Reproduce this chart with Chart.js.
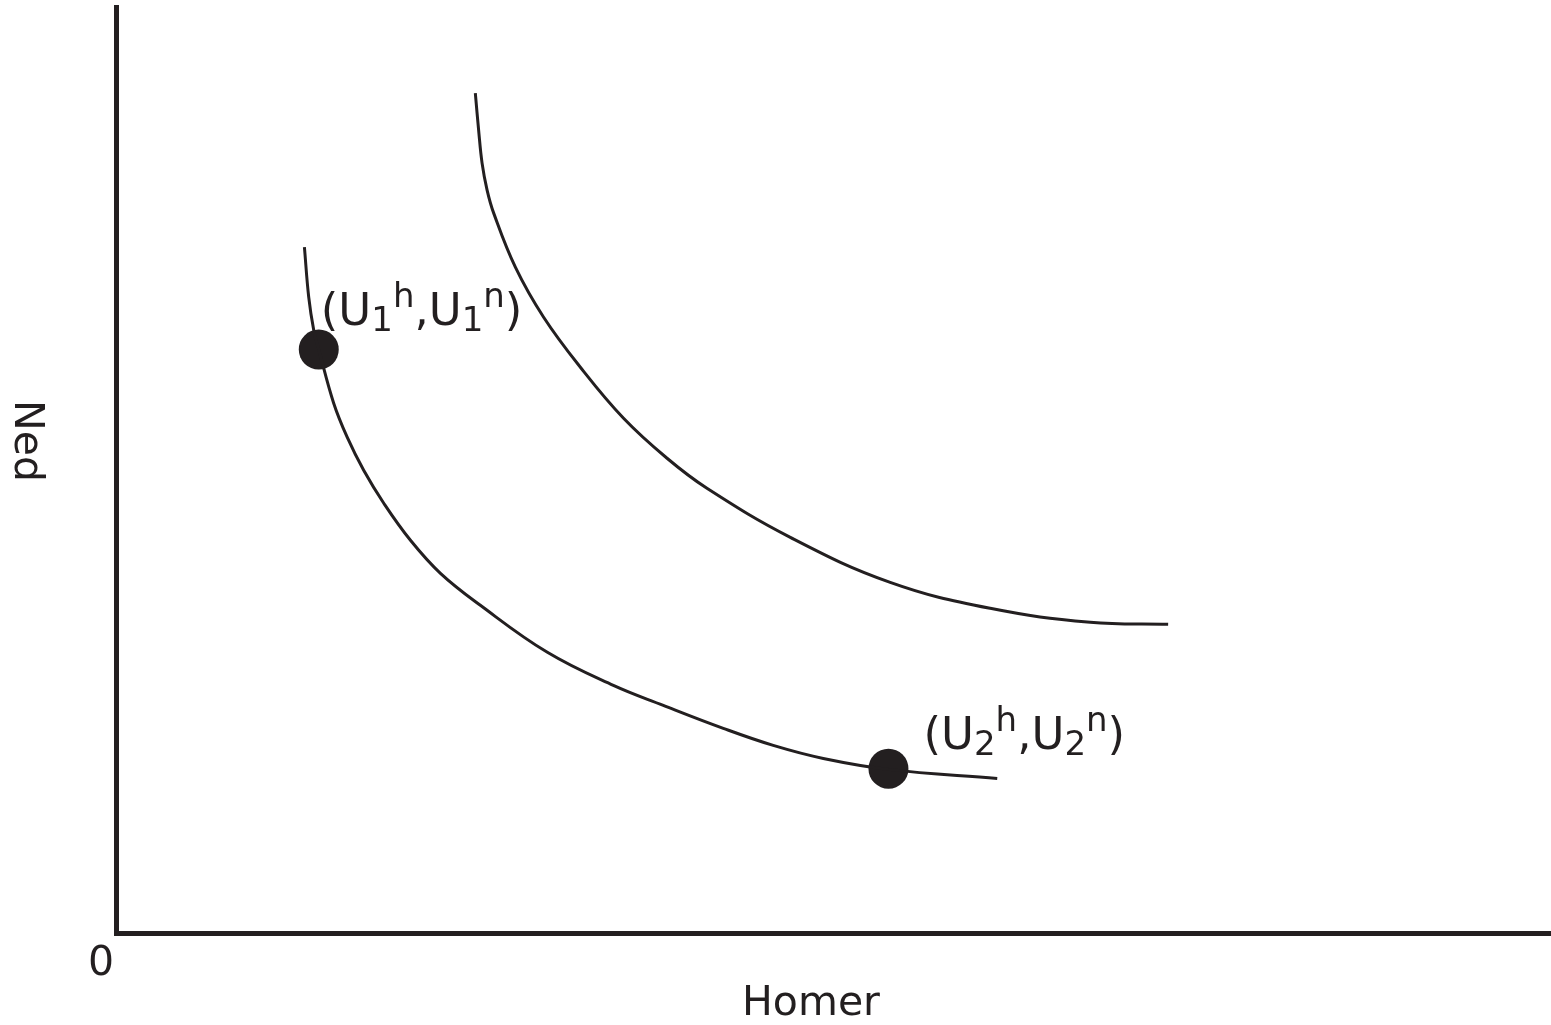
<!DOCTYPE html>
<html>
<head>
<meta charset="utf-8">
<script src="https://cdn.jsdelivr.net/npm/chart.js@4.4.1/dist/chart.umd.min.js"></script>
<style>
  html, body { margin: 0; padding: 0; background: #ffffff; overflow: hidden; }
  #wrap { position: relative; width: 1551px; height: 1025px; }
  canvas { display: block; }
</style>
</head>
<body>
<div id="wrap"><canvas id="c" width="1551" height="1025"></canvas></div>
<script>
// ---- data (arbitrary units, 0..100 on both axes) ----
const curveLowX = [13.13, 13.43, 13.78, 14.13, 15.17, 16.11, 17.26, 18.66, 20.52, 22.61, 25.39, 30.06, 34.66, 38.14, 42.32, 45.80, 49.29, 53.81, 61.41];
const curveLowY = [74.07, 68.67, 65.10, 63.01, 57.21, 53.54, 49.97, 46.41, 42.41, 38.84, 35.39, 30.31, 26.74, 24.58, 22.10, 20.26, 18.85, 17.67, 16.69];
const curveHighX = [25.04, 25.27, 25.51, 25.86, 26.32, 27.83, 29.80, 32.36, 35.37, 38.40, 41.18, 46.99, 53.95, 60.92, 67.89, 73.32];
const curveHighY = [90.71, 86.71, 83.14, 80.23, 77.74, 71.91, 66.50, 61.10, 55.59, 51.27, 48.03, 42.73, 37.87, 35.06, 33.55, 33.33];
const pointX = [14.13, 53.83];
const pointY = [63.01, 17.74];
// point labels as segments: [text, kind] with kind 'n' normal, 'sub', 'sup'
const pointLabels = [
  [['(', 'n'], ['U', 'n'], ['1', 'sub'], ['h', 'sup'], [',', 'n'], ['U', 'n'], ['1', 'sub'], ['n', 'sup'], [')', 'n']],
  [['(', 'n'], ['U', 'n'], ['2', 'sub'], ['h', 'sup'], [',', 'n'], ['U', 'n'], ['2', 'sub'], ['n', 'sup'], [')', 'n']]
];
const xTitle = 'Homer';
const yTitle = 'Ned';
const originLabel = '0';

const INK = '#231f20';
const FONT = '"DejaVu Sans", Verdana, sans-serif';

function zip(xs, ys) { return xs.map((x, i) => ({ x: x, y: ys[i] })); }

const textPlugin = {
  id: 'textPlugin',
  afterDraw(chart) {
    const ctx = chart.ctx;
    const xs = chart.scales.x, ys = chart.scales.y;
    ctx.save();
    ctx.fillStyle = INK;
    // axis titles & origin
    ctx.font = '41px ' + FONT;
    ctx.textBaseline = 'alphabetic';
    ctx.textAlign = 'center';
    ctx.fillText(xTitle, 811, 1015);
    ctx.fillText(originLabel, 101, 975);
    ctx.save();
    ctx.translate(15, 441);
    ctx.rotate(Math.PI / 2);
    ctx.fillText(yTitle, 0, 0);
    ctx.restore();
    // point labels
    const offsets = [[2, -25], [35, -20]];
    ctx.textAlign = 'left';
    pointLabels.forEach((segs, i) => {
      let px = xs.getPixelForValue(pointX[i]) + offsets[i][0];
      const base = ys.getPixelForValue(pointY[i]) + offsets[i][1];
      segs.forEach(([t, k]) => {
        let dy = 0;
        if (k === 'n') { ctx.font = '45px ' + FONT; }
        else { ctx.font = '34px ' + FONT; dy = (k === 'sub') ? 6 : -18; }
        ctx.fillText(t, px, base + dy);
        px += ctx.measureText(t).width;
      });
    });
    ctx.restore();
  }
};

new Chart(document.getElementById('c'), {
  type: 'line',
  data: {
    datasets: [
      { data: zip(curveLowX, curveLowY), borderColor: INK, borderWidth: 3, pointRadius: 0, tension: 0.4, fill: false },
      { data: zip(curveHighX, curveHighY), borderColor: INK, borderWidth: 3, pointRadius: 0, tension: 0.4, fill: false },
      { type: 'scatter', data: zip(pointX, pointY), backgroundColor: INK, borderColor: INK, pointRadius: 20, borderWidth: 0 }
    ]
  },
  options: {
    responsive: false,
    animation: false,
    devicePixelRatio: 1,
    layout: { autoPadding: false, padding: { left: 108, right: 0, top: 7, bottom: 84 } },
    plugins: { legend: { display: false }, tooltip: { enabled: false } },
    scales: {
      x: { type: 'linear', min: 0, max: 100, grid: { display: false }, ticks: { display: false }, border: { display: true, width: 5, color: INK } },
      y: { type: 'linear', min: 0, max: 100, grid: { display: false }, ticks: { display: false }, border: { display: true, width: 5, color: INK } }
    }
  },
  plugins: [textPlugin]
});
</script>
</body>
</html>
